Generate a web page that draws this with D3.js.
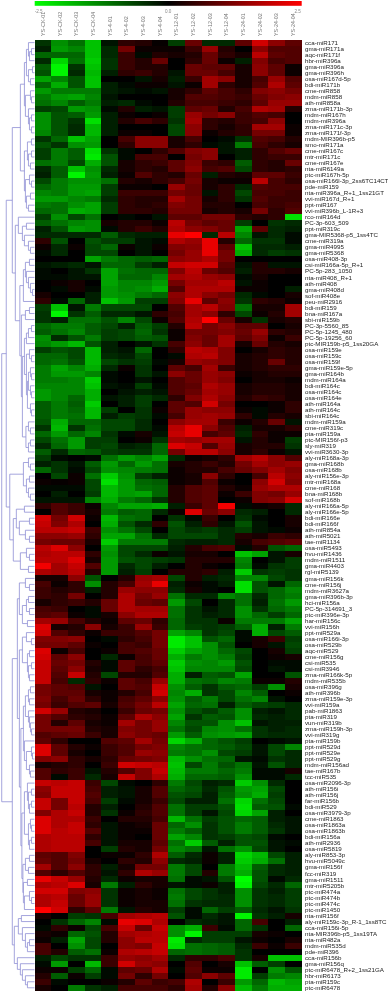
<!DOCTYPE html>
<html><head><meta charset="utf-8">
<script src="https://cdn.jsdelivr.net/npm/d3@7"></script>
<style>html,body{margin:0;padding:0;background:#fff;overflow:hidden}svg{display:block;filter:blur(0.3px)}text{font-family:"Liberation Sans",Arial,sans-serif}</style>
</head><body><div id="chart"></div>
<script>
const colLabels=["YS-CK-01","YS-CK-02","YS-CK-03","YS-CK-04","YS-4-01","YS-4-02","YS-4-03","YS-4-04","YS-12-01","YS-12-02","YS-12-03","YS-12-04","YS-24-01","YS-24-02","YS-24-03","YS-24-04"];
const legendTicks=[-2.5,0,2.5];
const rowLabels=["cca-miR171","gma-miR171a","aqc-miR171f","hbr-miR396a","gma-miR396a","gma-miR396h","osa-miR167d-5p","bdi-miR171b","cme-miR858","mdm-miR858","ath-miR858a","zma-miR171b-3p","mdm-miR167h","mdm-miR396a","zma-miR171c-3p","zma-miR171f-3p","mdm-MIR396b-p5","smo-miR171a","cme-miR167c","mtr-miR171c","cme-miR167e","nta-miR6149a","ptc-miR167h-5p","osa-miR166l-3p_2ss6TC14CT","pde-miR159","nta-miR396a_R+1_1ss21GT","vvi-miR167d_R+1","ppt-miR167","vvi-miR396b_L-1R+3","rco-miR164d","PC-3p-603_509","ppt-miR319c","gma-MIR5368-p5_1ss4TC","cme-miR319a","gma-miR4995","gma-miR5368","osa-miR408-3p","csi-miR166a-5p_R+1","PC-5p-283_1050","nta-miR408_R+1","ath-miR408","gma-miR408d","sof-miR408e","peu-miR2916","bdi-miR159","bna-miR167a","sbi-miR159b","PC-3p-5560_85","PC-5p-1245_480","PC-5p-19256_60","ptc-MIR159b-p5_1ss20GA","osa-miR159e","osa-miR159c","osa-miR159f","gma-miR159e-5p","gma-miR164b","mdm-miR164a","bdi-miR164c","osa-miR164c","osa-miR164e","ath-miR164a","ath-miR164c","sbi-miR164c","mdm-miR159a","cme-miR319c","pta-miR159a","ptc-MIR156f-p3","sly-miR319","vvi-miR3630-3p","aly-miR168a-3p","gma-miR168b","osa-miR168b","aly-miR156e-3p","mtr-miR168a","cme-miR168","bna-miR168b","sof-miR168b","aly-miR166a-5p","aly-miR166e-5p","bdi-miR166e","bdi-miR166f","ath-miR854a","ath-miR5021","tae-miR1134","osa-miR5493","hvu-miR1436","mdm-miR1511","gma-miR4403","rgl-miR5139","gma-miR156k","cme-miR156j","mdm-miR3627a","gma-miR396b-3p","hci-miR156a","PC-5p-314691_3","ptc-miR396e-3p","har-miR156c","vvi-miR156h","ppt-miR529a","osa-miR166i-3p","osa-miR529b","aqc-miR529","cme-miR156g","csi-miR535","csi-miR3946","zma-miR166k-5p","mdm-miR535b","osa-miR396g","ath-miR396b","zma-miR159e-3p","vvi-miR159a","pab-miR1863","pta-miR319","vun-miR319b","zma-miR159h-3p","vvi-miR319g","pta-miR159b","ppt-miR529d","ppt-miR529e","ppt-miR529g","mdm-miR156ad","tae-miR167b","tcc-miR535","osa-miR2096-3p","ath-miR156i","ath-miR156j","far-miR156b","bdi-miR529","osa-miR3979-3p","cme-miR1863","osa-miR1863a","osa-miR1863b","bdi-miR156a","ath-miR2936","osa-miR5819","aly-miR853-3p","hvu-miR5049c","gma-miR156f","fcc-miR319","gma-miR1511","mtr-miR5205b","ptc-miR474a","ptc-miR474b","ptc-miR474c","ptc-miR1450","nta-miR156f","aly-miR159c-3p_R-1_1ss8TC","cca-miR156i-5p","nta-MIR396b-p5_1ss19TA","nta-miR482a","mdm-miR535d","pde-miR396","cca-miR156b","gma-miR156q","ptc-miR6478_R+2_1ss21GA","hbr-miR6173","pta-miR159c","ptc-miR6478"];
const values=[
[-0.5,-1.4,-1.1,-1.9,-0.2,0.4,0.3,0.05,-0.6,0.9,-0.4,-0.4,0.8,1.8,1.2,0.8],
[-0.3,-1.5,-1.3,-1.9,-0.4,1.0,0.1,0.1,0.1,0.5,1.3,0.3,0,1.2,0.7,0.7],
[-1.0,-1.0,-1.0,-1.9,-0.4,0.5,-0.1,0.3,0.2,0.3,0.9,0.4,0.2,1.6,0.8,0.7],
[-0.4,-2.1,-1.1,-2.0,-0.5,0.5,0.3,0.9,0,0.4,0.9,0.1,-0.3,1.1,0.6,0.7],
[-0.9,-2.4,-0.5,-1.9,-0.5,0.5,0.3,0.3,0,0.9,0.8,0.8,0.2,1.2,0.8,0.1],
[-0.8,-2.4,-0.4,-1.8,-0.3,0.4,0.5,0.3,-0.2,0.9,0.9,0.6,0.2,1.2,0.8,0.1],
[-1.6,-1.3,-0.8,-1.9,0,0,-0.2,0.2,-0.3,0.5,1.4,1.2,0.2,0.6,1.3,0.7],
[-1.0,-1.7,-0.8,-1.9,-0.3,-0.1,0.1,0.1,-0.2,0.1,1.4,0.4,0.2,0.7,1.5,0.8],
[-1.5,-1.2,-1.2,-1.2,-0.3,-0.2,-0.1,-0.2,0.2,0.4,0.8,0.6,0.4,1.1,1.2,1.0],
[-1.2,-1.5,-1.6,-1.3,-0.2,0,0,0,0.2,0.7,0.7,0.6,0.5,0.9,1.1,1.2],
[-1.1,-1.3,-0.9,-1.2,-0.3,-0.4,-0.1,0,0.3,0.6,0.6,0.5,0.4,0.8,1.3,1.3],
[-0.6,-0.7,-1.5,-1.4,-0.1,0.3,-0.3,-0.2,-0.6,0.8,0.9,0.3,0.6,1.5,1.4,0.3],
[-1.4,-0.8,-0.9,-1.5,-0.3,0.1,0,0.1,-0.6,1.3,1.0,1.2,0.5,0.7,0.6,0],
[-1.4,-0.8,-0.5,-2.2,-0.3,0.3,0.6,0.4,-0.5,1.4,0.4,0.3,0.5,0.6,1.2,0],
[-1.4,-0.8,-0.4,-1.8,-0.3,0,0,0,-0.7,1.2,0.4,0.2,0.4,1.4,1.4,0.1],
[-1.3,-0.8,-0.4,-1.8,-0.3,0.1,0.1,0,-0.7,1.2,0.1,0.3,0.4,1.0,1.0,0.1],
[-0.5,-1.0,-1.9,-1.6,0,0.6,1.2,1.2,0.2,0.6,0,-0.1,-0.5,0.7,0.6,0.3],
[-0.8,-0.5,-1.4,-1.5,0,0.4,1.2,1.2,0.2,0.4,-0.1,-0.2,-1.2,0.6,0.4,0.2],
[-0.6,-1.2,-0.9,-2.2,-0.5,-0.1,0,0.4,0.7,1.1,1.2,-0.2,-0.3,0.4,0.7,0.9],
[-0.6,-1.2,-0.9,-2.3,-0.8,-0.1,0.6,0.6,0,1.0,1.2,0,-0.3,0.4,0.5,0.5],
[-1.1,-1.2,-0.7,-1.7,-0.8,0.2,0.4,0.5,0.8,1.1,0.5,0.4,-0.9,0.4,0.3,0.9],
[-0.4,-0.9,-1.9,-1.4,-0.4,0.2,0.4,0.3,0.8,1.2,0.6,0.7,-0.7,0.4,0.3,0.4],
[-0.3,-0.9,-2.4,-1.5,-0.3,0.1,0.7,0.4,0.3,0.9,-0.3,0.3,0.2,0.8,0.8,0.5],
[-0.7,-1.2,-1.4,-1.4,-1.1,0.3,0.2,0.4,0.6,1.0,0.2,0.1,0.1,1.6,0.6,0.4],
[-1.0,-1.2,-1.5,-1.5,-0.6,0.1,0.1,0,1.3,0.9,0.2,0.4,-0.4,0.7,0.6,0.6],
[-1.3,-1.2,-1.5,-1.6,-0.6,0.5,0.5,0.5,1.0,0.9,-0.2,0.4,-0.7,0.6,0.6,0.5],
[-1.5,-1.5,-1.3,-1.2,-0.4,0.4,0.3,0.3,1.4,1.0,0.2,0.4,-0.5,0.7,0.5,0.5],
[-1.2,-1.1,-1.4,-1.6,-0.6,0.4,0.3,0.4,1.1,1.0,0.3,0.3,0,0.6,0.5,0.6],
[-1.0,-1.1,-1.7,-1.6,-0.6,0.4,0.4,0.3,1.0,1.0,0.2,0.3,0.2,1.0,0.4,0.7],
[-0.6,-1.4,-0.7,-1.1,0,-0.1,0,-0.2,0.8,0.8,1.0,1.0,0.4,0.3,0.4,-2.2],
[-0.9,-1.1,-1.3,-1.4,0.2,0.3,0.3,0.1,1.6,1.0,0.8,0.9,-0.6,0,-0.5,-0.4],
[-0.3,-0.8,-1.5,-1.4,-0.1,0.3,0.5,0.3,1.5,1.2,1.1,0.9,-1.6,0.8,-0.4,-0.3],
[-0.4,-0.4,-0.4,-0.4,-0.9,-0.4,-0.3,-0.3,2.0,2.3,-0.4,1.6,-1.3,-0.2,-0.4,-0.1],
[0.4,-0.8,0,-0.8,-0.6,-0.6,-0.2,-0.1,1.5,1.3,2.0,0.3,-1.0,-0.5,-0.5,-0.1],
[0.1,-0.4,0.1,-0.7,-1.0,0.1,-0.2,0.1,1.1,1.2,2.0,0.8,-1.9,-0.4,-0.4,-0.3],
[-0.1,-0.4,0,-0.7,-0.7,0,-0.2,0,1.0,1.3,2.0,1.0,-1.7,-0.4,-0.6,-0.5],
[0,0,0,-1.6,-1.2,-1.0,-0.9,-1.0,1.2,1.3,1.5,1.0,0,0,0,0],
[-0.2,-0.3,-0.4,-0.2,-1.0,-1.0,-0.6,-0.3,1.7,1.8,1.8,0.8,-0.2,0.3,-0.2,-0.2],
[-0.1,0,-0.2,-0.5,-1.6,-1.1,-1.0,-1.0,1.1,1.6,0.9,0.7,-0.3,0.3,0.3,0.2],
[-0.1,-0.1,-0.2,-0.2,-1.6,-1.0,-1.0,-1.3,1.4,1.5,1.3,1.2,-0.1,0.2,0,0],
[0,0.1,0.2,0,-1.6,-1.3,-1.3,-1.5,1.0,1.4,1.4,1.6,-0.2,0.1,0,0],
[0,-0.1,0.2,-0.1,-1.5,-1.3,-1.4,-1.7,0.7,1.5,1.5,1.5,0.1,0.1,0,-0.3],
[0.2,0,0,-0.3,-1.5,-1.4,-1.2,-1.0,1.2,1.5,1.2,1.0,-0.4,-0.1,0,0.2],
[0.4,-0.1,-1.0,-0.3,-1.9,-1.5,-0.6,-0.6,1.1,2.0,0.8,1.2,-0.5,0.4,0.3,0.1],
[-0.6,-1.9,-0.2,-1.2,-0.7,-0.7,-0.7,0,0.7,1.4,1.6,1.1,-1.1,0.2,0.2,1.4],
[-0.5,-2.4,-0.5,-0.9,-0.4,-0.4,-0.2,0.4,0.6,1.4,1.2,0.4,-0.7,0.1,0.3,1.4],
[-0.5,-0.3,-1.1,-1.1,-0.8,-1.3,-0.7,0.1,0.7,1.5,2.2,0.9,0.2,-0.5,0.2,0.3],
[-1.0,-1.2,-1.2,-0.9,-0.7,-0.3,-0.9,-0.6,0.3,1.6,1.0,1.2,0.8,0.8,0,0.2],
[-0.9,-1.1,-1.3,-0.9,-0.6,-0.7,-1.0,-0.5,0.1,1.0,1.0,1.1,0.9,1.3,0.4,0.3],
[-1.4,-0.4,-0.8,-1.2,-0.6,-0.7,-0.9,-0.8,0.1,1.1,0.9,1.4,0.8,1.1,0.1,0.5],
[-1.3,-1.5,-1.8,-0.8,-0.3,0,-0.2,-0.5,0.6,1.2,0.9,1.4,0.2,0.9,0.3,0.2],
[-0.6,-0.8,-0.7,-1.8,-0.3,-0.2,-1.0,0,0.4,1.6,1.5,1.1,0,0.2,0.4,0.3],
[-1.0,-1.0,-0.7,-1.8,-0.4,-0.3,-0.7,0,-0.1,1.5,1.6,1.1,0.2,0.3,0.4,0.3],
[-1.0,-1.1,-0.8,-1.8,-0.7,-0.5,-0.6,-0.1,0.2,1.3,1.2,1.1,0.2,0.3,0.9,0.3],
[-1.2,-1.6,-1.3,-1.7,-0.4,0.1,-0.5,0,0.8,0.6,1.4,0.5,0.2,0.3,0.4,0.4],
[-1.2,-1.5,-1.5,-1.3,-0.1,0,-0.5,-0.2,1.2,0.9,1.3,1.2,0.1,0.2,0.3,0.3],
[-1.2,-1.2,-1.3,-2.0,-0.1,0,-0.2,0,0.7,0.9,1.3,1.1,0,0.2,0.2,0.1],
[-1.3,-1.3,-1.3,-1.9,-0.2,-0.1,-0.6,-0.1,0.7,0.8,1.5,1.3,0.2,0.3,0.3,0.2],
[-1.5,-1.3,-1.3,-1.7,0,-0.2,-0.3,-0.2,0.7,0.9,1.4,1.3,0.2,0.3,0.3,0.2],
[-1.5,-1.3,-1.0,-1.7,-0.2,-0.3,-0.6,-0.4,0.4,1.1,1.5,1.2,0.3,0.5,0.4,0.2],
[-0.9,-1.2,-0.9,-2.0,0,-0.3,-0.6,0,0.8,0.7,1.8,1.0,0,0,0.1,0.4],
[-0.9,-1.2,-1.0,-1.8,-0.6,0,-0.5,0.1,0.8,1.3,1.2,1.2,0.1,-0.1,0.1,0.4],
[-0.9,-1.2,-1.1,-1.8,-0.3,-0.6,-0.5,-0.1,0.6,1.3,1.4,1.3,0.4,-0.1,0.3,0.2],
[-0.8,-1.7,-1.0,-1.0,-0.7,-0.7,-0.4,0,1.2,1.4,1.4,0.5,0.1,0.3,0.9,-0.2],
[-0.5,-1.8,-0.5,-1.1,-0.7,-0.7,-0.4,-0.1,1.6,2.0,1.2,0.7,-0.3,0.2,0.2,0.4],
[-1.0,-1.5,-1.0,-1.3,-0.5,-0.1,0.2,-0.2,1.7,2.0,0.6,0.8,-0.4,0.4,0.1,0.1],
[-0.7,-1.1,-1.5,-0.6,-0.6,0,0.1,-0.5,1.4,1.3,1.4,1.4,-0.2,0.3,0.1,-0.6],
[-0.4,-1.0,-1.5,-0.6,-0.7,-0.3,-0.4,-1.0,1.9,1.7,0.7,1.3,0.2,0.3,0.3,-0.5],
[-0.9,-0.4,-1.0,-0.9,-0.6,-0.5,-0.5,-1.0,1.0,1.6,1.6,1.2,0.2,0.4,0.1,-0.2],
[-0.6,-0.1,0,-0.1,-1.1,-1.5,-1.3,-1.6,-0.4,0.1,0.2,0.4,1.4,1.6,1.2,0.7],
[-0.3,-0.5,-0.2,-0.9,-1.5,-1.0,-1.5,-1.1,0.2,0.3,0.5,0.3,1.0,1.4,1.2,1.3],
[-1.0,-0.5,-0.1,-0.7,-1.4,-1.3,-1.2,-1.1,0.1,0.3,0.3,0.6,0.9,1.1,1.4,1.1],
[0,-0.7,0.1,-1.1,-2.0,-1.4,-0.6,-0.3,0.1,0.2,1.2,0.4,0,0.6,1.6,1.2],
[0.1,0.05,0.1,-0.7,-2.2,-1.5,-1.0,-0.9,0.1,0.2,0.7,0.1,0,1.2,1.8,1.1],
[-0.1,-0.1,-0.1,-0.7,-1.8,-1.5,-1.1,-1.0,0.3,0.7,0.8,0.3,0.1,1.3,1.5,1.5],
[0,-0.3,0,-0.6,-1.8,-1.5,-1.6,-1.0,0.3,0.7,0.8,0.1,0.5,1.1,1.0,1.3],
[-0.2,-0.2,-0.2,-1.3,-1.7,-1.2,-1.0,-0.5,0.3,0.7,0.8,0,0.1,1.1,1.2,1.8],
[0.4,0.7,0.5,0.1,-1.3,-1.6,-1.6,-1.7,-0.3,0.5,0.8,2.1,-0.1,0.1,0.2,-0.4],
[0,0.7,0.5,0.2,-1.2,-0.9,-1.0,-0.4,0.1,1.9,0.9,1.2,-0.4,-0.3,0,-0.4],
[1.8,1.0,1.8,0.1,-1.8,-1.1,-1.0,0,-0.5,-0.1,0.5,0,-0.5,-0.1,0,0.2],
[1.7,1.1,1.5,0,-1.7,-0.8,-0.4,0.4,-0.8,-0.3,0.4,-0.2,-0.8,-0.2,0,0.2],
[1.6,1.6,1.7,0.5,-1.4,-1.1,-0.7,0,-0.7,-0.5,-0.6,-0.4,-0.6,-0.2,-0.1,0.1],
[1.2,1.2,1.3,0.4,-1.6,-1.6,-1.1,-0.4,-0.7,-0.7,-0.7,-0.4,0.3,0.2,0.5,0.4],
[1.0,0.9,0.9,0.2,-2.0,-1.2,-1.2,-1.2,-0.4,-0.3,-0.3,-0.4,0.2,0.6,0.7,0.8],
[1.6,1.9,1.2,0,-1.5,-0.7,-0.7,-0.7,-0.3,0.3,0.6,0.7,-0.1,0.3,-0.8,-1.0],
[1.5,1.6,1.6,0.4,-1.4,-0.7,-0.4,0.1,-0.2,0.2,0.2,0,-1.9,-1.6,-0.2,0.2],
[1.6,1.6,1.9,0.2,-1.5,-0.8,-0.7,-0.6,-0.5,0.3,0.3,0.3,-1.3,0,-0.2,-0.6],
[2.1,1.4,1.7,0.7,-1.5,-0.4,-0.7,-0.3,0,0.3,0.1,0,-1.2,-0.1,-0.5,-0.6],
[1.5,1.4,1.6,0.3,-1.5,-0.3,-0.6,0,0.3,0.3,0.4,-0.3,-2.0,-0.5,-0.6,-0.5],
[0.2,0.2,1.2,-0.8,0,0.3,1.3,1.4,-0.7,0.3,-0.3,-0.4,-1.3,-1.3,-0.7,-0.5],
[0.6,0.1,0.4,-1.4,0.3,0.6,1.4,2.0,-0.3,0.1,-0.1,-0.3,-2.2,-0.8,-0.2,-1.0],
[0.5,0.3,0.4,-0.3,0.3,1.3,1.2,1.2,-0.4,0.2,-0.1,0,-2.2,-0.8,-1.0,-1.3],
[0.5,0.4,1.0,0,0.3,1.5,1.0,1.3,-1.1,-0.4,-0.4,-1.3,-1.1,-0.4,-1.0,-1.2],
[0.2,0.4,0.5,0.3,0.9,1.5,0.9,0.8,-1.5,-0.7,0,-0.4,-1.1,-0.3,-1.1,-1.5],
[0.6,0.5,0,-0.1,0.9,1.5,1.4,1.4,-1.1,-0.5,-0.2,-0.4,-1.4,-0.5,-1.0,-1.2],
[0.7,0.8,0.1,-0.1,0.2,1.2,1.5,1.5,-1.1,-0.5,-0.3,-0.4,-1.4,-1.0,-0.6,-1.0],
[1.4,1.3,0.6,0.3,0.1,0.8,0.9,0.4,-1.0,-0.5,-0.5,0.1,-1.2,-1.2,-1.2,-1.6],
[1.9,0.2,0.3,1.2,0.2,0.5,1.3,0.5,-1.0,-0.6,-0.5,-0.6,-0.9,-1.7,-0.3,-1.2],
[1.8,0.7,0.4,0.1,0.5,0.5,0.7,1.0,-1.6,-1.3,-0.5,-0.7,-0.1,-1.7,-0.7,-0.9],
[1.1,1.1,1.2,0,-0.1,0.4,0.6,1.0,-2.3,-1.9,-0.8,-1.0,-0.1,0.2,0.5,-0.6],
[1.0,1.0,0.8,0.1,0,0.6,0.5,1.0,-2.3,-1.9,-1.4,-0.8,0,0.2,-0.2,-0.7],
[1.9,0.1,0.6,0,0.1,0.6,0.7,0.9,-2.0,-1.6,-1.4,-1.0,-0.7,0,0.2,-0.6],
[1.8,0.8,1.2,0,-0.4,0.1,0.6,0.9,-1.7,-1.2,-1.4,-1.2,-0.6,0,0.1,0.2],
[1.7,0.9,1.0,0.3,-0.1,0.8,0.6,0.8,-2.0,-1.4,-1.3,-1.5,-0.8,0,-0.1,-0.1],
[1.7,0.8,1.2,0.2,-0.1,0.8,0.4,0.6,-1.9,-1.3,-1.3,-1.3,-0.7,0,-0.2,-0.1],
[1.7,0.7,1.7,0.3,-0.7,0.3,0.3,0.7,-1.7,-0.3,-0.9,-0.8,-1.6,0,0,-0.8],
[1.7,0.6,-0.4,0.4,0.1,0.8,0.6,1.3,-1.7,-1.1,-1.0,-1.3,-1.2,0.1,0.1,0.3],
[1.0,0.8,0.7,-0.2,0,0.8,0.7,1.7,-1.4,-0.9,-0.5,-0.9,-1.0,-0.6,-1.4,0.2],
[1.0,0.8,0.8,0.2,0.1,0.3,0.6,1.8,-1.3,-1.7,-0.5,-0.7,-1.3,-0.9,0,0.1],
[1.1,0.6,0.9,0.4,0.1,0.6,0.8,1.2,-1.4,-0.9,-1.2,-0.7,-1.1,-1.3,-0.2,0],
[1.0,0.5,0.7,0.8,0.2,0.7,1.0,1.6,-1.6,-1.0,-1.1,-0.3,-0.9,-0.7,-0.6,-0.4],
[1.8,1.3,0.3,0.2,0,0.5,0.9,1.0,-1.4,-0.8,-0.6,-0.9,-1.4,-0.3,-0.2,-0.4],
[1.0,0.7,0.4,0.3,0.1,0.8,1.5,1.2,-1.6,-0.5,-0.9,-0.8,-1.4,-0.4,-0.3,-0.4],
[1.0,0.3,0.8,0.2,0.1,1.4,1.0,1.3,-1.3,-0.8,-0.8,-1.4,-1.9,-0.2,-0.3,-0.3],
[1.0,1.0,1.0,0.3,0.2,1.1,1.0,1.3,-1.1,-0.7,-1.3,-1.4,-1.1,-0.5,-0.3,-0.4],
[0.7,0.8,0.9,0.5,0.2,1.2,1.0,0.9,-1.5,-0.9,-1.4,-1.5,-1.6,-0.5,-0.4,-0.4],
[0.8,0.4,0,0,0.7,0.8,1.4,1.0,-2.1,-1.7,-1.0,-0.8,-0.6,0,-0.1,-0.2],
[1.9,0.8,0.3,0.1,0.5,0.7,1.0,1.1,-1.3,-1.1,-1.0,-0.9,-0.7,-0.2,-0.7,-1.3],
[1.9,0.8,0.2,0,0.5,0.7,1.3,1.2,-1.2,-1.1,-1.4,-0.7,-0.6,-0.2,-0.7,-0.4],
[1.1,1.2,0.4,0.2,0.4,0.9,1.0,1.1,-1.8,-1.4,-1.1,-1.0,-0.2,-0.1,-0.5,-0.4],
[0.2,0.3,0.4,0,0.5,1.8,1.7,1.6,-1.9,-0.7,-1.2,-0.8,-1.1,-0.2,-0.8,-0.4],
[0.7,0.4,0.5,-0.2,0.3,0.7,1.1,1.7,-1.8,-1.2,-1.2,-1.0,-1.2,-0.1,-0.1,0.2],
[0.7,-0.1,0.5,-0.4,0.2,1.7,1.1,1.5,-1.7,-1.0,-1.0,-0.9,-1.4,-0.1,-0.1,-0.4],
[1.7,1.6,1.7,0.5,-0.7,-0.1,0,0.4,-1.2,-0.7,-0.3,-0.4,-2.0,-1.4,-0.4,0],
[1.2,1.7,1.7,0.6,-0.3,-0.2,0.2,0.7,-1.0,-0.8,-0.4,-0.8,-1.5,-1.6,-0.7,0],
[1.1,1.7,1.7,0.7,-0.3,-0.2,0.2,0.7,-0.8,-0.7,-0.3,-0.9,-1.4,-1.7,-0.6,0],
[1.7,1.0,1.7,0.6,-0.6,-0.1,0.2,0.5,-0.7,-0.3,-0.3,-1.1,-2.1,-1.1,-0.7,0],
[1.7,1.0,1.6,0.3,-0.3,0,0.3,0.7,-1.1,-0.6,-0.6,-0.8,-2.2,-0.9,-0.8,-0.1],
[1.1,1.5,1.7,0.3,-0.5,0.1,0.4,0.7,-1.1,-0.6,-0.2,-0.7,-2.1,-1.6,-0.3,0],
[1.9,1.5,1.5,0.5,0,0.3,0.3,0.6,-1.8,-1.1,-0.6,-0.8,-1.0,-0.9,-0.3,-0.2],
[1.9,1.5,1.7,0.4,-0.2,0.1,0.2,0.9,-1.0,-1.4,-0.5,-0.8,-1.2,-0.9,-0.4,-0.2],
[1.9,1.6,1.7,0.7,-0.2,0.1,0.1,0.9,-1.2,-0.9,-0.5,-0.8,-1.2,-0.9,-0.5,-0.2],
[1.5,1.6,1.6,0.4,-0.2,0.1,0,0.9,-1.6,-1.3,-0.5,-0.6,-0.8,-0.7,-0.1,0],
[1.5,1.6,1.6,0.6,-0.2,0.2,0.2,0.8,-1.1,-2.0,-0.9,-0.3,-0.8,-0.8,-0.2,-0.1],
[1.5,1.6,1.6,0,-0.6,0.3,0.2,1.0,-1.3,-1.1,-0.2,-1.1,-1.4,-0.7,-0.2,0],
[0.8,0.7,1.1,0,0.1,0.1,0.4,1.5,-0.9,-0.4,0.1,-0.3,-2.1,-1.8,-0.7,-0.3],
[0.9,0.7,1.0,0.2,0,0.4,0.3,1.2,-0.4,-0.3,0.1,-0.3,-2.0,-1.7,-1.1,-0.3],
[1.4,0.7,1.2,0.4,-0.3,0.2,1.0,1.0,-1.2,-0.7,0,-1.2,-1.8,-0.9,-0.4,-0.3],
[0.7,0.4,0.7,0.4,-0.2,0.4,1.5,1.3,-1.2,-0.7,0.3,-1.2,-1.7,-0.8,-0.4,-0.3],
[2.0,1.7,1.3,0.3,-0.4,0.1,0.2,0.2,-1.1,-0.1,-0.2,-0.8,-2.5,-0.8,-0.1,-0.4],
[1.5,1.6,1.9,0.2,-1.2,-0.3,0.4,0.2,-0.2,-0.1,0.1,-0.3,-2.4,-0.7,-0.4,-1.0],
[1.8,1.8,1.1,1.2,-0.5,0.1,0.2,0.1,-1.1,-0.7,-0.5,-0.3,-1.4,-0.5,-0.3,-0.6],
[1.5,1.6,0.9,1.3,-0.5,0.1,0.2,0.1,-1.2,-0.7,-0.5,-0.4,-1.4,-0.5,-0.4,-0.6],
[1.5,1.7,0.9,1.3,-0.5,0.1,0.2,0.2,-1.1,-0.5,-0.4,-0.4,-1.4,-0.5,-0.4,-0.6],
[2.3,1.8,0.4,0.8,-1.2,-0.2,0.3,0.2,-0.6,-0.1,-1.0,-0.6,-0.9,-0.4,-0.2,-0.5],
[0.2,0,-0.6,-0.5,0.6,1.4,1.5,1.6,-0.8,-0.1,-0.4,-0.2,-2.4,-0.5,-0.3,0.2],
[0,-0.5,-1.0,-1.3,-0.1,2.0,1.9,1.5,0,-0.4,-0.3,-0.2,-1.0,0.6,0,-0.3],
[-0.1,0.4,0.1,-0.7,0.6,1.7,0.9,1.7,-1.4,-1.7,0.5,-0.1,-1.0,-0.5,0,-1.0],
[0.2,0.1,-1.0,-0.8,0.3,1.4,1.5,1.6,-1.4,-2.4,-0.6,-0.6,-0.6,0.2,0.1,0],
[0.1,-0.3,-1.6,-0.7,0.3,1.2,1.6,1.6,-2.3,-0.4,-0.6,-0.6,-0.2,0.1,0,0.2],
[0.6,0,-1.4,-0.7,0,1.2,1.1,1.7,-2.2,-1.1,-1.0,-0.9,-0.4,0.5,0.1,0.5],
[0.6,0.3,-0.9,-1.1,0.1,1.5,1.6,1.7,-1.0,-1.1,-1.0,-0.9,-0.5,0,0,0],
[-0.3,-0.7,-0.5,-0.5,0.5,1.3,1.2,1.4,-0.4,0.4,0.4,0.6,-0.5,0.2,-1.9,-1.9],
[-0.1,-1.5,0,-1.8,0.5,1.8,1.3,1.2,0,0.7,0,0.2,-1.9,-0.9,-0.6,0],
[0.1,0.1,-0.6,-1.0,-0.1,0.8,0.9,1.5,-0.1,0.8,0.1,0.1,-2.3,0,-1.4,-0.8],
[0.3,-0.9,0.1,-0.6,-0.1,1.0,0.4,1.0,0,0.7,1.2,0.8,-2.3,-0.6,-1.2,-1.3],
[0.5,-0.1,0,0,0.1,0.3,0.8,0.5,0.6,1.5,0,0.5,-1.5,-1.0,-1.8,-1.6],
[0.2,0,-1.2,-0.5,-0.3,0.6,0.6,0.6,0.4,1.4,0.3,1.2,-1.8,-1.2,-1.7,-1.7]
];
// Row dendrogram: [merge distance, child, child]; 0 marks the next leaf in row order.
const c1=[6,0,[5,[3,0,0],0]],c2=[2,0,0],c3=[4,0,0],c4=[4,0,[3,0,0]],c5=[6,0,[5,[3,0,0],[3,0,0]]];
const a1=[10,[8,c1,[6,c2,c3]],[9,c4,c5]];
const a2=[10,[7,[3,0,0],[6,[3,0,0],[4,0,0]]],[9,[5,0,[3,0,0]],[8,[4,0,0],[6,0,0]]]];
const b1=[16,0,[12,[8,0,0],[10,0,[6,0,[4,0,0]]]]];
const b2a=[11,[9,[5,0,0],[8,0,[6,0,[4,0,[2,0,0]]]]],0];
const g1=[9,[5,0,0],0],g2=[8,[6,[3,0,0],0],0],g3=[5,0,[3,0,0]],g4=[6,[4,0,[3,0,0]],[4,0,[3,0,0]]],g5=[4,0,[3,0,0]],g6=[6,0,[4,0,0]],g7=[6,[4,0,0],0];
const b2b=[13,g1,[12,[10,g2,[8,g3,[7,g4,g5]]],[8.5,g6,g7]]];
const A1=[22,[14,a1,a2],[19,b1,[14.5,b2a,b2b]]];
const A2=[24.5,[11,[6,0,[4,0,0]],[8,[5,0,0],[6,0,[4,0,0]]]],[21,[18,[10,0,0],[15,[5,0,0],[9,0,[5,0,0]]]],[14,[8,0,[5,0,0]],[6,0,0]]]];
const P=[15,[9,0,[5,0,0]],[12,[8,[6,0,0],[5,0,0]],[7,0,0]]];
const Q1=[12,[8,0,[3,0,0]],[7,[5,0,0],[6,[3,0,0],[5,0,0]]]];
const Q2=[11,[9,[6,[4,0,0],[5,0,0]],[6,0,[5,0,[4,0,[3,0,0]]]]],[10,0,[8,[3,0,[2,0,0]],[5,0,[4,0,0]]]]];
const Q3=[12.5,[10,[7,0,[6,[3,0,0],[5,[3,0,0],0]]],[6,[4,0,[3,0,0]],[5,[3,0,0],0]]],[11.5,[9,[5,0,0],[6,0,0]],[11,[7,0,0],[10,[5,0,[3,0,0]],0]]]];
const B2=[20,[16,[13,0,0],[12,0,[9,0,[7,[5,0,0],0]]]],[17,0,[14,0,[12,0,[9,0,[7,0,0]]]]]];
const dendroRoot=[32.5,[28,A1,A2],[22,[17,P,[15,Q1,[13.5,Q2,Q3]]],B2]];

const W=388,H=992;
const svg=d3.select("#chart").append("svg").attr("width",W).attr("height",H);
const x=d3.scaleBand().domain(colLabels).range([34.7,301.7]);
const y=d3.scaleBand().domain(d3.range(rowLabels.length)).range([39.6,990.8]);
const legendColor=d3.scaleLinear().domain([-2.5,0,2.5]).range(["#00ff00","#000000","#ff0000"]);
const color=d3.scaleLinear().domain([-2.5,0,2.2]).range(["#00ff00","#000000","#ff0000"]).clamp(true);
const legendX=d3.scaleLinear().domain([-2.5,2.5]).range([34.7,301.7]);

// legend gradient
const grad=svg.append("defs").append("linearGradient").attr("id","lg");
legendTicks.forEach(v=>grad.append("stop").attr("offset",(v+2.5)/5).attr("stop-color",legendColor(v)));
svg.append("rect").attr("x",legendX(-2.5)).attr("y",1).attr("width",legendX(2.5)-legendX(-2.5)).attr("height",4.8).attr("fill","url(#lg)");
svg.selectAll(".lt").data(legendTicks).join("text").attr("class","lt")
  .attr("x",(d,i)=>legendX(d)+(i==0?4:i==2?-4:0)).attr("y",12.5).attr("text-anchor","middle")
  .attr("font-size",4.6).attr("fill","#888").text(d=>d.toFixed(1));

// column labels
svg.selectAll(".cl").data(colLabels).join("text").attr("class","cl")
  .attr("transform",d=>`translate(${x(d)+x.bandwidth()/2+1.8},36) rotate(-90)`)
  .attr("font-size",5.4).attr("fill","#777").text(d=>d);

// cells
const cells=svg.append("g").attr("shape-rendering","crispEdges");
values.forEach((row,i)=>{
  cells.selectAll(null).data(row).join("rect")
    .attr("x",(d,j)=>x(colLabels[j])).attr("y",y(i))
    .attr("width",x.bandwidth()+0.5).attr("height",y.bandwidth()+0.5).attr("fill",d=>color(d));
});

// row labels
svg.selectAll(".rl").data(rowLabels).join("text").attr("class","rl")
  .attr("x",305).attr("y",(d,i)=>y(i)+y.bandwidth()/2+2.1)
  .attr("font-size",6.2).attr("fill","#222").text(d=>d);

// dendrogram
const dx=d3.scaleLinear().domain([0,33]).range([34.5,1.2]);
const segs=[];let leaf=0;
function walk(n){
  if(n===0){const i=leaf++;return {d:0,y:y(i)+y.bandwidth()/2};}
  const a=walk(n[1]),b=walk(n[2]),h=n[0];
  segs.push([a.d,a.y,h,a.y],[b.d,b.y,h,b.y],[h,a.y,h,b.y]);
  return {d:h,y:(a.y+b.y)/2};
}
walk(dendroRoot);
svg.append("g").selectAll("line").data(segs).join("line")
  .attr("x1",s=>dx(s[0])).attr("y1",s=>s[1]).attr("x2",s=>dx(s[2])).attr("y2",s=>s[3])
  .attr("stroke","#8e8ed4").attr("stroke-width",0.8);
</script></body></html>
